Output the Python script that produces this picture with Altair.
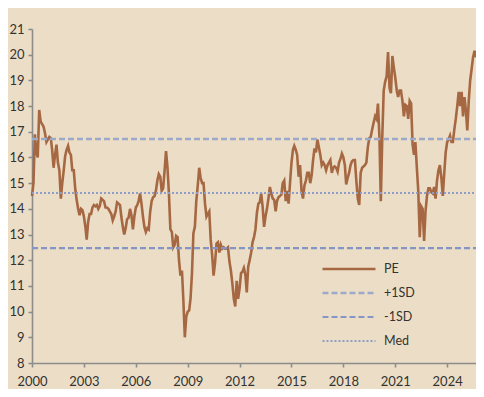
import altair as alt
import pandas as pd

# Monthly PE readings, Jan 2000 onwards
pe_2000 = [14.5, 15.0, 16.9, 16.2, 16.0, 17.85, 17.4, 17.3, 17.2, 16.95, 16.6, 16.7]
pe_2001 = [16.8, 16.75, 16.3, 15.6, 16.1, 16.5, 15.8, 15.5, 14.4, 15.0, 15.5, 16.05]
pe_2002 = [16.3, 16.45, 16.2, 16.1, 15.5, 15.5, 14.8, 14.35, 14.0, 13.75, 14.0, 13.95]
pe_2003 = [13.7, 13.3, 12.8, 13.5, 13.8, 13.8, 14.05, 14.15, 14.1, 14.15, 14.0, 14.1]
pe_2004 = [14.4, 14.35, 14.3, 14.05, 14.05, 14.0, 13.9, 13.8, 13.55, 13.7, 13.9, 14.25]
pe_2005 = [14.2, 14.15, 13.7, 13.3, 13.0, 13.25, 13.6, 13.65, 14.0, 13.75, 13.2, 13.7]
pe_2006 = [14.05, 14.15, 14.3, 14.6, 14.2, 13.7, 13.3, 13.1, 13.25, 13.2, 13.9, 14.3]
pe_2007 = [14.45, 14.5, 14.7, 15.1, 15.35, 15.25, 14.7, 14.8, 15.5, 16.25, 15.6, 14.6]
pe_2008 = [13.2, 13.1, 12.5, 12.6, 12.95, 12.9, 12.0, 11.4, 11.6, 10.45, 9.0, 9.8]
pe_2009 = [10.0, 10.05, 10.5, 11.5, 13.05, 13.3, 14.3, 14.9, 15.6, 15.2, 15.0, 15.0]
pe_2010 = [14.2, 13.7, 13.8, 13.9, 12.8, 12.2, 11.4, 11.9, 12.65, 12.7, 12.3, 12.6]
pe_2011 = [12.45, 12.5, 12.45, 12.45, 12.5, 11.95, 11.6, 11.1, 10.5, 10.2, 11.2, 10.5]
pe_2012 = [10.9, 11.5, 11.55, 11.7, 11.45, 10.75, 11.75, 12.0, 12.3, 12.7, 12.9, 13.2]
pe_2013 = [13.85, 14.2, 14.25, 14.6, 14.1, 13.3, 13.7, 14.0, 14.4, 14.85, 14.6, 14.4]
pe_2014 = [14.35, 13.9, 14.3, 14.45, 14.5, 14.55, 15.0, 15.1, 14.3, 14.7, 14.2, 15.0]
pe_2015 = [15.8, 16.3, 16.45, 16.3, 16.1, 15.25, 15.7, 14.7, 14.4, 14.9, 15.1, 15.4]
pe_2016 = [15.4, 15.0, 15.3, 15.9, 16.35, 16.2, 16.7, 16.4, 16.1, 15.7, 15.8, 15.7]
pe_2017 = [15.5, 15.7, 15.8, 15.9, 15.4, 15.6, 15.65, 15.6, 15.45, 15.8, 15.95, 16.15]
pe_2018 = [16.0, 15.7, 14.95, 15.2, 15.4, 15.7, 15.85, 15.9, 15.9, 15.1, 14.4, 14.15]
pe_2019 = [15.4, 15.6, 15.65, 15.7, 15.8, 16.4, 16.75, 16.8, 17.1, 17.35, 17.6, 17.5]
pe_2020 = [18.1, 16.8, 14.3, 16.8, 18.6, 18.95, 19.15, 20.1, 18.7, 18.5, 19.95, 19.5]
pe_2021 = [19.1, 18.6, 18.35, 18.6, 18.6, 18.2, 17.6, 18.05, 18.0, 17.5, 18.2, 18.1]
pe_2022 = [16.5, 16.1, 16.6, 15.6, 14.7, 12.9, 14.1, 14.0, 12.75, 13.9, 14.5, 14.8]
pe_2023 = [14.8, 14.65, 14.6, 14.85, 14.4, 15.1, 15.5, 15.7, 15.2, 14.5, 15.4, 16.2]
pe_2024 = [16.6, 16.7, 16.85, 16.6, 16.6, 17.1, 17.5, 18.0, 18.55, 18.0, 18.55, 17.6]
pe_2025 = [18.35, 17.8, 17.05, 18.2, 19.0, 19.45, 19.9, 20.15, 19.9]

plus_1sd = 16.72
minus_1sd = 12.47
median_pe = 14.62

series_names = ["PE", "+1SD", "-1SD", "Med"]
series_colors = ["#A66842", "#9DA9C8", "#8595C4", "#8F9DCA"]
series_dashes = [[1, 0], [6, 3], [6, 3], [2, 2]]
series_widths = [2.6, 2, 2, 2]

x_tick_years = list(range(2000, 2025, 3))
y_ticks = list(range(8, 22))

pe_values = (pe_2000 + pe_2001 + pe_2002 + pe_2003 + pe_2004 + pe_2005 + pe_2006
             + pe_2007 + pe_2008 + pe_2009 + pe_2010 + pe_2011 + pe_2012 + pe_2013
             + pe_2014 + pe_2015 + pe_2016 + pe_2017 + pe_2018 + pe_2019 + pe_2020
             + pe_2021 + pe_2022 + pe_2023 + pe_2024 + pe_2025)
dates = pd.date_range("2000-01-01", periods=len(pe_values), freq="MS")

pe_df = pd.DataFrame({"date": dates, "value": pe_values, "series": "PE"})
ends = [dates[0], dates[-1]]
ref_df = pd.DataFrame({
    "date": ends * 3,
    "value": [plus_1sd] * 2 + [minus_1sd] * 2 + [median_pe] * 2,
    "series": ["+1SD"] * 2 + ["-1SD"] * 2 + ["Med"] * 2,
})
df = pd.concat([pe_df, ref_df], ignore_index=True)
df["date"] = df["date"].dt.strftime("%Y-%m-%dT00:00:00")

FONT = "Lato"
legend = alt.Legend(
    orient="none", legendX=289, legendY=228, title=None,
    symbolType="stroke", symbolSize=2809, clipHeight=24, rowPadding=0,
    labelOffset=7, labelFont=FONT, labelFontSize=12.5, labelColor="#333333",
    padding=0,
)

last = dates[-1]
chart = alt.Chart(df).mark_line(strokeCap="butt").encode(
    x=alt.X(
        "date:T",
        title=None,
        scale=alt.Scale(domain=[alt.DateTime(year=2000, month=1, date=1),
                                alt.DateTime(year=int(last.year), month=int(last.month), date=1)]),
        axis=alt.Axis(values=[alt.DateTime(year=y, month=1, date=1) for y in x_tick_years],
                      format="%Y", labelFlush=False, labelOverlap=False, labelPadding=8),
    ),
    y=alt.Y(
        "value:Q",
        title=None,
        scale=alt.Scale(domain=[8, 21], nice=False, zero=False),
        axis=alt.Axis(values=y_ticks, labelPadding=4),
    ),
    color=alt.Color("series:N", scale=alt.Scale(domain=series_names, range=series_colors), legend=legend),
    strokeDash=alt.StrokeDash("series:N", scale=alt.Scale(domain=series_names, range=series_dashes), legend=legend),
    strokeWidth=alt.StrokeWidth("series:N", scale=alt.Scale(domain=series_names, range=series_widths), legend=legend),
).properties(
    width=444, height=334,
    autosize=alt.AutoSizeParams(type="none"),
    padding={"left": 24, "top": 21, "right": 0, "bottom": 26},
    background="#ECDEC6",
).configure_view(stroke=None).configure_axis(
    grid=False, domainColor="#8C8C8C", domainWidth=1.6, tickColor="#8C8C8C",
    tickWidth=1.6, tickSize=4, labelFont=FONT, labelFontSize=13, labelColor="#333333",
)

chart.save("out.html", embed_options={"renderer": "svg", "actions": False})
